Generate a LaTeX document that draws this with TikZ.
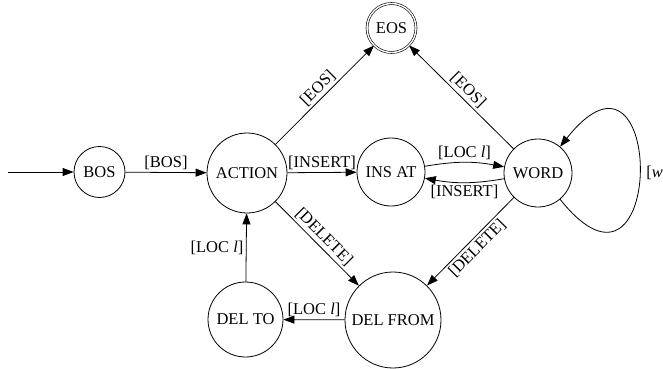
\documentclass[tikz,border=0pt]{standalone}
\usepackage{fontspec}
\setmainfont{Liberation Serif}
\usetikzlibrary{arrows.meta}
\begin{document}
\begin{tikzpicture}[x=1pt,y=1pt,
  every node/.style={font=\fontsize{16.5}{19}\selectfont},
  state/.style={draw,circle,inner sep=0pt,line width=0.8pt},
  final/.style={state,double,double distance=1.4pt,line width=0.6pt},
  edge/.style={draw,line width=0.8pt,-{Triangle[length=11pt,width=8pt]}},
  lbl/.style={inner sep=2.5pt}]
\useasboundingbox (0,0) rectangle (663,368);
\node[state,minimum size=51pt] (BOS) at (99.5,196) {BOS};
\node[state,minimum size=80pt] (ACTION) at (247,195) {ACTION};
\node[state,minimum size=68pt] (INS) at (391,196) {INS AT};
\node[state,minimum size=68pt] (WORD) at (538,195) {WORD};
\node[final,minimum size=49pt] (EOS) at (391.5,340) {EOS};
\node[state,minimum size=75pt] (DELTO) at (245.5,48.5) {DEL TO};
\node[state,minimum size=96pt] (DELFROM) at (393,48) {DEL FROM};
\coordinate (start) at (8,196);
\path[edge] (start) -- (BOS);
\path[edge] (BOS) -- node[lbl,above] {[BOS]} (ACTION);
\path[edge] (ACTION) -- node[lbl,above] {[INSERT]} (INS);
\path[edge] (ACTION) -- node[lbl,above,sloped] {[EOS]} (EOS);
\path[edge] (ACTION) -- node[lbl,above,sloped] {[DELETE]} (DELFROM);
\path[edge] (INS) to[bend left=10] node[lbl,above] {[LOC \textit{l}]} (WORD);
\path[edge] (WORD) to[bend left=10] node[lbl,below] {[INSERT]} (INS);
\path[edge] (WORD) -- node[lbl,above,sloped] {[EOS]} (EOS);
\path[edge] (WORD) -- node[lbl,below,sloped] {[DELETE]} (DELFROM);
\path[edge] (DELFROM) -- node[lbl,above] {[LOC \textit{l}]} (DELTO);
\path[edge] (DELTO) -- node[lbl,left] {[LOC \textit{l}]} (ACTION);
\path[edge] (WORD.-50) .. controls (666,36) and (666,355) .. node[lbl,right,pos=0.5,xshift=4pt] {[\textit{w}]} (WORD.50);
\end{tikzpicture}
\end{document}
